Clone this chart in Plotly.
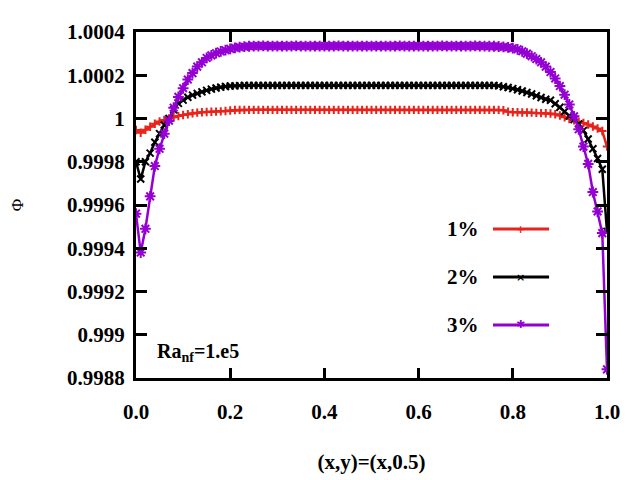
import plotly.graph_objects as go

# grid positions along the horizontal centreline y = 0.5
x_pos = [
    0.00, 0.01, 0.02, 0.03, 0.04, 0.05, 0.06, 0.07, 0.08, 0.09,
    0.10, 0.11, 0.12, 0.13, 0.14, 0.15, 0.16, 0.17, 0.18, 0.19,
    0.20, 0.21, 0.22, 0.23, 0.24, 0.25, 0.26, 0.27, 0.28, 0.29,
    0.30, 0.31, 0.32, 0.33, 0.34, 0.35, 0.36, 0.37, 0.38, 0.39,
    0.40, 0.41, 0.42, 0.43, 0.44, 0.45, 0.46, 0.47, 0.48, 0.49,
    0.50, 0.51, 0.52, 0.53, 0.54, 0.55, 0.56, 0.57, 0.58, 0.59,
    0.60, 0.61, 0.62, 0.63, 0.64, 0.65, 0.66, 0.67, 0.68, 0.69,
    0.70, 0.71, 0.72, 0.73, 0.74, 0.75, 0.76, 0.77, 0.78, 0.79,
    0.80, 0.81, 0.82, 0.83, 0.84, 0.85, 0.86, 0.87, 0.88, 0.89,
    0.90, 0.91, 0.92, 0.93, 0.94, 0.95, 0.96, 0.97, 0.98, 0.99,
    1.00,
]

phi_1pct = [
    0.999947, 0.999934, 0.999948, 0.999962, 0.999976, 0.999986, 0.999993, 1.000000, 1.000006, 1.000011,
    1.000016, 1.000020, 1.000024, 1.000027, 1.000029, 1.000030, 1.000031, 1.000032, 1.000033, 1.000035,
    1.000037, 1.000039, 1.000040, 1.000040, 1.000040, 1.000040, 1.000040, 1.000040, 1.000040, 1.000040,
    1.000040, 1.000040, 1.000040, 1.000040, 1.000040, 1.000040, 1.000040, 1.000040, 1.000040, 1.000040,
    1.000040, 1.000040, 1.000040, 1.000040, 1.000040, 1.000040, 1.000040, 1.000040, 1.000040, 1.000040,
    1.000040, 1.000040, 1.000040, 1.000040, 1.000040, 1.000040, 1.000040, 1.000040, 1.000040, 1.000040,
    1.000040, 1.000040, 1.000040, 1.000040, 1.000040, 1.000040, 1.000040, 1.000040, 1.000040, 1.000040,
    1.000040, 1.000040, 1.000040, 1.000040, 1.000040, 1.000040, 1.000040, 1.000040, 1.000038, 1.000031,
    1.000029, 1.000029, 1.000028, 1.000028, 1.000027, 1.000026, 1.000025, 1.000024, 1.000023, 1.000020,
    1.000014, 1.000006, 0.999998, 0.999992, 0.999985, 0.999979, 0.999972, 0.999963, 0.999954, 0.999942,
    0.999870,
]

phi_2pct = [
    0.999800, 0.999720, 0.999800, 0.999840, 0.999890, 0.999930, 0.999970, 1.000000, 1.000040, 1.000070,
    1.000085, 1.000098, 1.000108, 1.000116, 1.000123, 1.000130, 1.000136, 1.000141, 1.000145, 1.000148,
    1.000150, 1.000151, 1.000152, 1.000153, 1.000153, 1.000153, 1.000153, 1.000153, 1.000153, 1.000153,
    1.000153, 1.000153, 1.000153, 1.000153, 1.000153, 1.000153, 1.000153, 1.000153, 1.000153, 1.000153,
    1.000153, 1.000153, 1.000153, 1.000153, 1.000153, 1.000153, 1.000153, 1.000153, 1.000153, 1.000153,
    1.000153, 1.000153, 1.000153, 1.000153, 1.000153, 1.000153, 1.000153, 1.000153, 1.000153, 1.000153,
    1.000153, 1.000153, 1.000153, 1.000153, 1.000153, 1.000153, 1.000153, 1.000153, 1.000153, 1.000153,
    1.000153, 1.000153, 1.000153, 1.000153, 1.000153, 1.000153, 1.000153, 1.000151, 1.000147, 1.000143,
    1.000138, 1.000133, 1.000127, 1.000120, 1.000113, 1.000105, 1.000097, 1.000089, 1.000084, 1.000068,
    1.000052, 1.000032, 1.000012, 0.999995, 0.999975, 0.999945, 0.999905, 0.999860, 0.999815, 0.999765,
    0.999478,
]

phi_3pct = [
    0.999560, 0.999380, 0.999490, 0.999640, 0.999780, 0.999860, 0.999930, 0.999990, 1.000050, 1.000100,
    1.000140, 1.000180, 1.000210, 1.000240, 1.000260, 1.000280, 1.000292, 1.000302, 1.000310, 1.000316,
    1.000322, 1.000327, 1.000330, 1.000332, 1.000334, 1.000335, 1.000335, 1.000336, 1.000335, 1.000335,
    1.000335, 1.000335, 1.000335, 1.000335, 1.000336, 1.000335, 1.000335, 1.000335, 1.000335, 1.000335,
    1.000335, 1.000335, 1.000335, 1.000336, 1.000335, 1.000335, 1.000335, 1.000335, 1.000335, 1.000335,
    1.000335, 1.000335, 1.000335, 1.000335, 1.000335, 1.000335, 1.000336, 1.000335, 1.000335, 1.000335,
    1.000335, 1.000335, 1.000335, 1.000335, 1.000335, 1.000336, 1.000335, 1.000335, 1.000335, 1.000335,
    1.000335, 1.000335, 1.000336, 1.000335, 1.000335, 1.000334, 1.000334, 1.000333, 1.000331, 1.000329,
    1.000325, 1.000320, 1.000311, 1.000300, 1.000288, 1.000275, 1.000260, 1.000240, 1.000215, 1.000185,
    1.000150, 1.000110, 1.000065, 1.000010, 0.999950, 0.999870, 0.999790, 0.999660, 0.999570, 0.999470,
    0.998840,
]

series_names = ["1%", "2%", "3%"]
series_colors = ["#e8231b", "#000000", "#9400d3"]
series_symbols = ["cross-thin-open", "x-thin-open", "asterisk-open"]
series_marker_sizes = [6, 7, 9]

x_tickvals = [0.0, 0.2, 0.4, 0.6, 0.8, 1.0]
y_tickvals = [1.0004, 1.0002, 1.0, 0.9998, 0.9996, 0.9994, 0.9992, 0.999, 0.9988]
y_ticktext = ["1.0004", "1.0002", "1", "0.9998", "0.9996", "0.9994", "0.9992", "0.999", "0.9988"]

serif = "Liberation Serif"

fig = go.Figure()
for name, vals, col, sym, ms in zip(series_names, [phi_1pct, phi_2pct, phi_3pct],
                                    series_colors, series_symbols, series_marker_sizes):
    fig.add_trace(go.Scatter(
        x=x_pos, y=vals, name=name, mode="lines+markers",
        line=dict(color=col, width=2.5),
        marker=dict(symbol=sym, size=ms, color=col, line=dict(color=col, width=2)),
        showlegend=False,
    ))

# gnuplot-style key: label on the left, sample line on the right
key_y = [0.4306, 0.2919, 0.1532]
key_marks = ["+", "\u00d7", "\u2731"]
for name, col, ky, mk in zip(series_names, series_colors, key_y, key_marks):
    fig.add_shape(type="line", xref="paper", yref="paper",
                  x0=0.758, x1=0.877, y0=ky, y1=ky,
                  line=dict(color=col, width=3))
    fig.add_annotation(xref="paper", yref="paper", x=0.7325, y=ky,
                       xanchor="right", yanchor="middle", text=name, showarrow=False,
                       font=dict(family=serif, size=21, color="black", weight="bold"))
    fig.add_annotation(xref="paper", yref="paper", x=0.8174, y=ky,
                       xanchor="center", yanchor="middle", text=mk, showarrow=False,
                       font=dict(family="DejaVu Sans", size=11, color=col, weight="bold"))

fig.add_annotation(xref="paper", yref="paper", x=0.04, y=0.075,
                   xanchor="left", yanchor="middle", showarrow=False,
                   text="Ra<sub>nf</sub>=1.e5",
                   font=dict(family=serif, size=20, color="black", weight="bold"))

fig.update_xaxes(
    range=[0, 1], tickvals=x_tickvals, tickformat=".1f", automargin=False,
    ticks="inside", ticklen=10, tickwidth=2.5, tickcolor="black",
    showline=True, linewidth=3, linecolor="black", mirror="allticks",
    showgrid=False, zeroline=False, ticklabelstandoff=13,
    tickfont=dict(family=serif, size=21, color="black", weight="bold"),
    title=dict(text="(x,y)=(x,0.5)", standoff=32,
               font=dict(family=serif, size=21, color="black", weight="bold")),
)
fig.update_yaxes(
    range=[0.9988, 1.0004], tickvals=y_tickvals, ticktext=y_ticktext, automargin=False,
    ticks="inside", ticklen=11, tickwidth=2.5, tickcolor="black",
    showline=True, linewidth=3, linecolor="black", mirror="allticks",
    showgrid=False, zeroline=False, ticklabelstandoff=4,
    tickfont=dict(family=serif, size=21, color="black", weight="bold"),
    title=dict(text="\u03a6", standoff=45,
               font=dict(family=serif, size=17, color="black")),
)

# the page adds an 8px body margin, so the frame is offset to compensate
fig.update_layout(
    width=640, height=480,
    margin=dict(l=128, r=41, t=24, b=110),
    paper_bgcolor="white", plot_bgcolor="white",
    showlegend=False,
)

fig.write_html("out.html")
